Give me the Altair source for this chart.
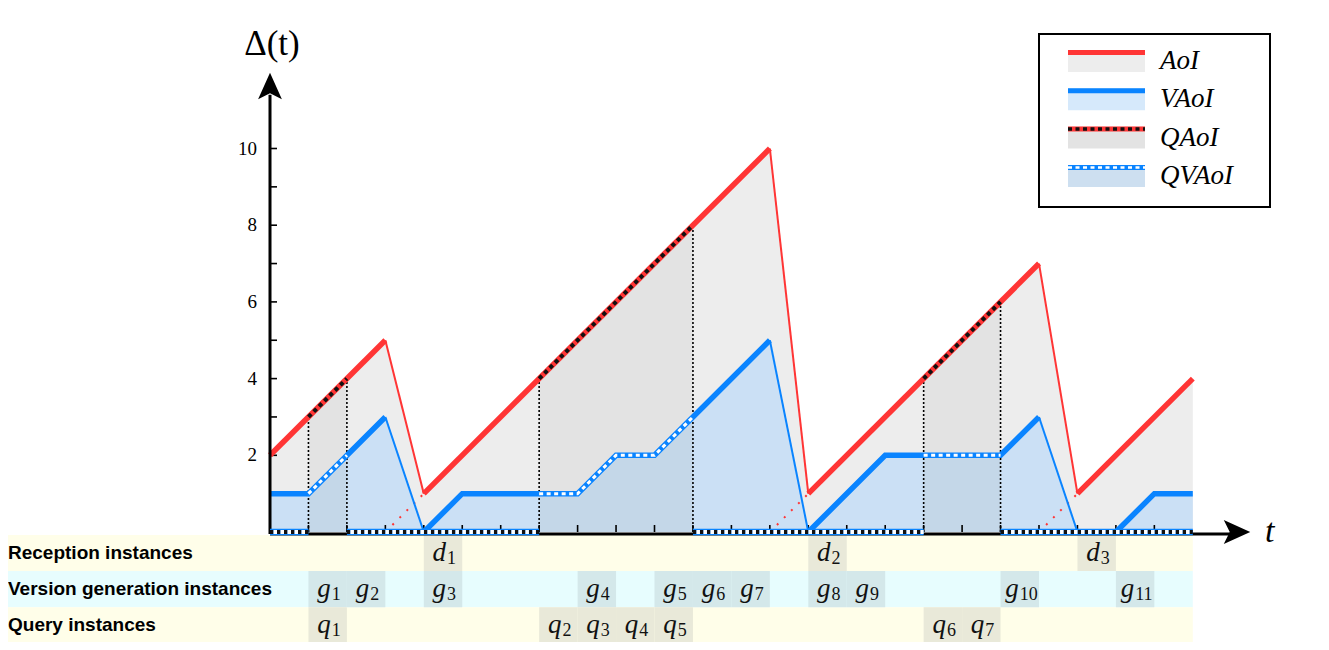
import altair as alt
import pandas as pd

# ---------------- data ----------------
aoi_t = [0, 3, 4, 13, 14, 20, 21, 24]
aoi_v = [2, 5, 1, 10, 1, 7, 1, 4]
vaoi_t = [0, 1, 3, 4, 5, 7, 8, 9, 10, 11, 13, 14, 16, 19, 20, 21, 22, 23, 24]
vaoi_v = [1, 1, 3, 0, 1, 1, 1, 2, 2, 3, 5, 0, 2, 2, 3, 0, 0, 1, 1]
qaoi_id = [0, 0, 1, 1, 2, 2]
qaoi_t = [1, 2, 7, 11, 17, 19]
qaoi_v = [3, 4, 4, 8, 4, 6]
qvaoi_id = [0, 0, 1, 1, 1, 1, 1, 2, 2]
qvaoi_t = [1, 2, 7, 8, 9, 10, 11, 17, 19]
qvaoi_v = [1, 2, 1, 1, 2, 2, 3, 2, 2]
zero_start = [0, 2, 11, 19]
zero_end = [1, 7, 17, 24]
arrival_t = [3, 13, 20]
recep_t = [4, 14, 21]
gen_t = [1, 2, 4, 8, 10, 11, 12, 14, 15, 19, 22]
query_t = [1, 7, 8, 9, 10, 17, 18]
row_names = ["Reception instances", "Version generation instances", "Query instances"]
legend_names = ["AoI", "VAoI", "QAoI", "QVAoI"]
y_tick_labels = [2, 4, 6, 8, 10]
y_ticks = list(range(1, 11))
x_ticks = list(range(1, 24))

# ---------------- layout ----------------
W, H = 1313, 634
UX, UY = 38.45, 38.35
X0, Y0 = 262, 524  # chart pixel of t=0, value=0
XMIN, XMAX = -X0 / UX, (W - X0) / UX
YMIN, YMAX = (Y0 - H) / UY, Y0 / UY


def px2x(p):
    return XMIN + p / UX


def px2y(p):
    return YMAX - p / UY


xs = alt.Scale(domain=[XMIN, XMAX], nice=False, zero=False)
ys = alt.Scale(domain=[YMIN, YMAX], nice=False, zero=False)


def X(f):
    return alt.X(f, type="quantitative", scale=xs, axis=None)


def Y(f):
    return alt.Y(f, type="quantitative", scale=ys, axis=None)


RED = "#ff3535"
BLUE = "#0a84ff"
AOI_FILL = "#ededed"
QAOI_FILL = "#e3e3e3"
VAOI_FILL = "#cbe0f5"
QVAOI_FILL = "#c4d7e8"
Y_BG, C_BG = "#fffee9", "#e7fdfe"
Y_CELL, C_CELL = "#e9e9d9", "#d4e8ea"
SERIF = "Liberation Serif"
INK = "#111111"

# ---------------- derived frames ----------------
def split_runs(ts, vs):
    thick, thin = [], []
    run = 0
    thick.append((run, ts[0], vs[0]))
    for i in range(1, len(ts)):
        if vs[i] < vs[i - 1]:
            thin += [(i, ts[i - 1], vs[i - 1]), (i, ts[i], vs[i])]
            run += 1
        thick.append((run, ts[i], vs[i]))
    return (pd.DataFrame(thick, columns=["run", "t", "v"]),
            pd.DataFrame(thin, columns=["run", "t", "v"]))


aoi_df = pd.DataFrame({"t": aoi_t, "v": aoi_v})
vaoi_df = pd.DataFrame({"t": vaoi_t, "v": vaoi_v})
aoi_thick, aoi_thin = split_runs(aoi_t, aoi_v)
vaoi_thick, vaoi_thin = split_runs(vaoi_t, vaoi_v)
qaoi_df = pd.DataFrame({"q": qaoi_id, "t": qaoi_t, "v": qaoi_v})
qvaoi_df = pd.DataFrame({"q": qvaoi_id, "t": qvaoi_t, "v": qvaoi_v})
zero_df = pd.DataFrame({"t": zero_start, "t2": zero_end, "v": 0})
arr_rows = []
for k, t in enumerate(arrival_t):
    arr_rows += [(k, t, 0), (k, t + 1, 1)]
arr_df = pd.DataFrame(arr_rows, columns=["k", "t", "v"])

row_top = [-0.08, -1.02, -1.96]
row_bot = [-1.02, -1.96, YMIN]
row_bg = [Y_BG, C_BG, Y_BG]
row_cell = [Y_CELL, C_CELL, Y_CELL]
rows_df = pd.DataFrame({"name": row_names, "top": row_top, "bot": row_bot,
                        "fill": row_bg, "x0": XMIN, "x1": 24})
rows_df["yc"] = (rows_df["top"] + rows_df["bot"]) / 2

lab = []
for r, (letter, ts) in enumerate([("d", recep_t), ("g", gen_t), ("q", query_t)]):
    for i, t in enumerate(ts):
        s = str(i + 1)
        lab.append(dict(t=t, t2=t + 1, tc=t + 0.5, top=row_top[r], bot=row_bot[r],
                        yc=(row_top[r] + row_bot[r]) / 2, fill=row_cell[r],
                        letter=letter, sub=s, n=len(s)))
lab_df = pd.DataFrame(lab)

vq_df = pd.DataFrame({"t": qaoi_t, "v0": 0, "v": qaoi_v})
ytick_df = pd.DataFrame({"v": y_ticks, "x0": 0, "x1": 7 / UX})
xtick_df = pd.DataFrame({"t": x_ticks, "y0": 0, "y1": 7 / UY})
ylab_df = pd.DataFrame({"v": y_tick_labels, "x": -13 / UX, "s": [str(v) for v in y_tick_labels]})

# legend frames (chart pixel layout converted to data units)
leg_fill = [AOI_FILL, "#d6e9fb", QAOI_FILL, "#cddff0"]
leg_line = [RED, BLUE, RED, BLUE]
leg = []
for i, nm in enumerate(legend_names):
    top = 42 + 38.3 * i
    leg.append(dict(name=nm, x0=px2x(1060), x1=px2x(1137), top=px2y(top), bot=px2y(top + 22),
                    yl=px2y(top + 2.5), ty=px2y(top + 11), tx=px2x(1152),
                    fill=leg_fill[i], line=leg_line[i], i=i))
leg_df = pd.DataFrame(leg)
box_df = pd.DataFrame({"x0": [px2x(1031)], "x1": [px2x(1262)], "y0": [px2y(26)], "y1": [px2y(199)]})

# ---------------- layers ----------------
layers = []
layers.append(alt.Chart(rows_df).mark_rect().encode(
    x=X("x0"), x2="x1", y=Y("top"), y2="bot", color=alt.Color("fill:N", scale=None)))
layers.append(alt.Chart(lab_df).mark_rect().encode(
    x=X("t"), x2="t2", y=Y("top"), y2="bot", color=alt.Color("fill:N", scale=None)))

layers.append(alt.Chart(aoi_df).mark_area(color=AOI_FILL, opacity=1).encode(
    x=X("t"), y=Y("v"), y2=alt.datum(0)))
layers.append(alt.Chart(qaoi_df).mark_area(color=QAOI_FILL, opacity=1).encode(
    x=X("t"), y=Y("v"), y2=alt.datum(0), detail="q:N"))
layers.append(alt.Chart(vaoi_df).mark_area(color=VAOI_FILL, opacity=1).encode(
    x=X("t"), y=Y("v"), y2=alt.datum(0)))
layers.append(alt.Chart(qvaoi_df).mark_area(color=QVAOI_FILL, opacity=1).encode(
    x=X("t"), y=Y("v"), y2=alt.datum(0), detail="q:N"))

# query boundary dotted verticals
layers.append(alt.Chart(vq_df).mark_rule(color="black", strokeWidth=1.6, strokeDash=[2, 2]).encode(
    x=X("t"), y=Y("v0"), y2="v"))

# ticks
layers.append(alt.Chart(xtick_df).mark_rule(color="black", strokeWidth=1.6).encode(
    x=X("t"), y=Y("y0"), y2="y1"))
layers.append(alt.Chart(ytick_df).mark_rule(color="black", strokeWidth=1.6).encode(
    x=X("x0"), x2="x1", y=Y("v")))

# red dotted arrival lines
layers.append(alt.Chart(arr_df).mark_line(color=RED, strokeWidth=2, strokeDash=[2, 8]).encode(
    x=X("t"), y=Y("v"), detail="k:N"))

# thin drops
layers.append(alt.Chart(aoi_thin).mark_line(color=RED, strokeWidth=2).encode(
    x=X("t"), y=Y("v"), detail="run:N"))
layers.append(alt.Chart(vaoi_thin).mark_line(color=BLUE, strokeWidth=2).encode(
    x=X("t"), y=Y("v"), detail="run:N"))
# thick runs
layers.append(alt.Chart(vaoi_thick).mark_line(color=BLUE, strokeWidth=5.5).encode(
    x=X("t"), y=Y("v"), detail="run:N"))
layers.append(alt.Chart(aoi_thick).mark_line(color=RED, strokeWidth=5.5).encode(
    x=X("t"), y=Y("v"), detail="run:N"))

# query overlays
layers.append(alt.Chart(qaoi_df).mark_line(color=INK, strokeWidth=4, strokeDash=[4, 3.5]).encode(
    x=X("t"), y=Y("v"), detail="q:N"))
layers.append(alt.Chart(qvaoi_df).mark_line(color="white", strokeWidth=3, strokeDash=[4, 3.5]).encode(
    x=X("t"), y=Y("v"), detail="q:N"))

# axes lines
axis_df = pd.DataFrame({"x0": [0], "x1": [25.0], "y0": [-0.05], "y1": [11.4]})
layers.append(alt.Chart(axis_df).mark_rule(color="black", strokeWidth=3).encode(
    x=X("x0"), x2="x1", y=Y("y0")))
layers.append(alt.Chart(axis_df).mark_rule(color="black", strokeWidth=3).encode(
    x=X("x0"), y=Y("y0"), y2="y1"))

# zero-level Q line
layers.append(alt.Chart(zero_df).mark_rule(color=BLUE, strokeWidth=6.5).encode(
    x=X("t"), x2="t2", y=Y("v")))
layers.append(alt.Chart(zero_df).mark_rule(color=INK, strokeWidth=4, strokeDash=[3.5, 3.5]).encode(
    x=X("t"), x2="t2", y=Y("v")))
layers.append(alt.Chart(zero_df).mark_rule(color="white", strokeWidth=4, strokeDash=[3.5, 3.5],
                                           strokeDashOffset=3.5).encode(
    x=X("t"), x2="t2", y=Y("v")))

# arrowheads
arrow_df = pd.DataFrame({"x": [0], "y": [11.63], "xr": [25.15], "yr": [0]})
layers.append(alt.Chart(arrow_df).mark_point(
    shape="M0,-1L0.9,1L0,0.55L-0.9,1Z", filled=True, size=700, color="black", opacity=1, strokeWidth=0
).encode(x=X("x"), y=Y("y")))
layers.append(alt.Chart(arrow_df).mark_point(
    shape="M1,0L-1,-0.9L-0.55,0L-1,0.9Z", filled=True, size=700, color="black", opacity=1, strokeWidth=0
).encode(x=X("xr"), y=Y("yr")))

# axis titles & tick labels
title_df = pd.DataFrame({"x": [0.05], "y": [12.72], "s": ["Δ(t)"], "xt": [26.0], "yt": [0.0], "st": ["t"]})
layers.append(alt.Chart(title_df).mark_text(font=SERIF, fontSize=35, color="black").encode(
    x=X("x"), y=Y("y"), text="s:N"))
layers.append(alt.Chart(title_df).mark_text(font=SERIF, fontSize=34, fontStyle="italic", color="black").encode(
    x=X("xt"), y=Y("yt"), text="st:N"))
layers.append(alt.Chart(ylab_df).mark_text(font=SERIF, fontSize=19, align="right", color="black").encode(
    x=X("x"), y=Y("v"), text="s:N"))

# instance labels
for n, dxx in [(1, 3), (2, -1)]:
    sub = lab_df[lab_df.n == n]
    layers.append(alt.Chart(sub).mark_text(font=SERIF, fontStyle="italic", fontSize=27, align="right",
                                           baseline="alphabetic", dx=dxx, dy=8, color=INK).encode(
        x=X("tc"), y=Y("yc"), text="letter:N"))
    layers.append(alt.Chart(sub).mark_text(font=SERIF, fontSize=18, align="left",
                                           baseline="alphabetic", dx=dxx + 1, dy=11, color=INK).encode(
        x=X("tc"), y=Y("yc"), text="sub:N"))

# row names
layers.append(alt.Chart(rows_df).mark_text(font="Liberation Sans", fontWeight="bold", fontSize=19,
                                           align="left", color="black").encode(
    x=alt.value(0), y=Y("yc"), text="name:N"))

# legend
layers.append(alt.Chart(box_df).mark_rect(fill="white", stroke="black", strokeWidth=2).encode(
    x=X("x0"), x2="x1", y=Y("y0"), y2="y1"))
layers.append(alt.Chart(leg_df).mark_rect().encode(
    x=X("x0"), x2="x1", y=Y("top"), y2="bot", color=alt.Color("fill:N", scale=None)))
layers.append(alt.Chart(leg_df).mark_rule(strokeWidth=5).encode(
    x=X("x0"), x2="x1", y=Y("yl"), color=alt.Color("line:N", scale=None)))
layers.append(alt.Chart(leg_df[leg_df.name == "QAoI"]).mark_rule(
    color=INK, strokeWidth=3.5, strokeDash=[4, 3.5]).encode(x=X("x0"), x2="x1", y=Y("yl")))
layers.append(alt.Chart(leg_df[leg_df.name == "QVAoI"]).mark_rule(
    color="white", strokeWidth=2.5, strokeDash=[4, 3.5]).encode(x=X("x0"), x2="x1", y=Y("yl")))
layers.append(alt.Chart(leg_df).mark_text(font=SERIF, fontStyle="italic", fontSize=27, align="left",
                                          color="black").encode(
    x=X("tx"), y=Y("ty"), text="name:N"))

chart = alt.layer(*layers).properties(
    width=W, height=H, padding=0, autosize=alt.AutoSizeParams(type="none"), background="white"
).configure_view(stroke=None)

chart.save("out.html", embed_options={"renderer": "svg", "actions": False})
